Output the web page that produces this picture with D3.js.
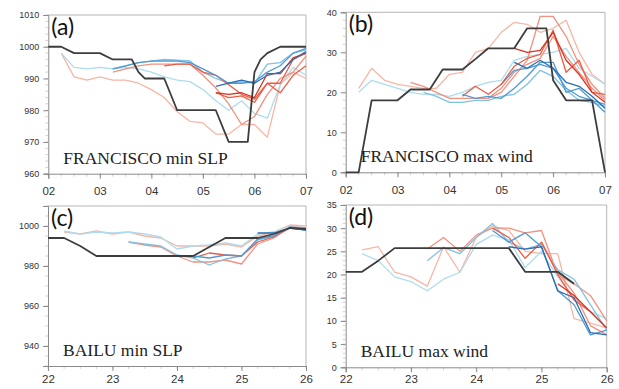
<!DOCTYPE html>
<html>
<head>
<meta charset="utf-8">
<script src="https://cdn.jsdelivr.net/npm/d3@7"></script>
<style>
  body { margin: 0; background: #fff; }
  svg { display: block; }
</style>
</head>
<body>
<svg width="619" height="389"></svg>
<script>
// colours of the ensemble members
const colours = {
  k: "#3d3d3d",
  r1: "#f7b6a6", r2: "#f29180", r3: "#ec5c45", r4: "#da3422",
  b1: "#addcec", b2: "#80c2e3", b3: "#4f9bd4", b4: "#2b6db4"
};

// ---- (a) FRANCISCO min SLP : [day, hPa]
const aObs = [[2,1000],[2.25,1000],[2.5,998],[3,998],[3.25,996],[3.62,996],[3.75,992],[3.87,990],[4.25,990],[4.5,980],[5.25,980],[5.5,970],[5.87,970],[6,992],[6.12,996],[6.25,998],[6.5,1000],[7,1000]];
const aR1 = [[2.25,998],[2.5,990.5],[2.75,989.5],[3,990.5],[3.25,989.5],[3.5,989.5],[3.75,988.5],[4,986.5],[4.25,984],[4.5,979.5],[4.75,976.5],[5,976],[5.25,972.5],[5.5,972.5],[5.75,975.5],[6,975.5],[6.25,971.5],[6.5,988],[6.75,992],[7,990]];
const aB1 = [[2.25,998],[2.5,993.5],[2.75,993],[3,993.5],[3.25,993],[3.5,993.5],[3.75,993],[4,992],[4.25,990.5],[4.5,989.5],[4.75,989],[5,986.5],[5.25,983],[5.5,980],[5.75,983],[6,979],[6.25,977.5],[6.5,988],[6.75,993.5],[7,991]];
const aB2 = [[3.25,993],[3.5,994],[3.75,995],[4,995.5],[4.25,996],[4.75,995.5],[5,992],[5.25,990],[5.5,988.5],[5.75,989],[6,988.5],[6.25,994.5],[6.5,995],[6.75,998],[7,999]];
const aB3 = [[3.25,993],[3.5,994],[3.75,995],[4,995.5],[4.5,995.5],[4.75,995],[5,993],[5.25,991],[5.5,988.5],[5.75,988.5],[6,989],[6.25,992],[6.5,994],[6.75,998],[7,999.5]];
const aB4 = [[5.25,987.5],[5.5,988.5],[5.75,989.5],[6,988.5],[6.25,991],[6.5,992],[6.75,996],[7,998.5]];
const aR2 = [[3.25,992],[3.5,993],[3.75,994],[4,994.5],[4.75,994.5],[5,991],[5.25,987],[5.5,982],[5.75,975.5],[6,978],[6.25,985],[6.5,990],[6.75,992],[7,997]];
const aR3 = [[4.25,994],[4.5,994.5],[4.75,994.5],[5,992],[5.25,991],[5.5,988],[5.75,985],[6,983.5],[6.25,988.5],[6.5,988.5],[6.75,996],[7,998]];
const aR4 = [[5.25,985.5],[5.5,985],[5.75,985.5],[6,984],[6.25,991.5],[6.5,991.5],[6.75,996.5],[7,998]];
const aR5 = [[5.25,985.5],[5.5,984],[5.75,984.5],[6,982.5],[6.25,988.5],[6.5,985.5],[6.75,991],[7,994]];

// ---- (b) FRANCISCO max wind : [day, m/s]
const bObs = [[2,0],[2.25,0],[2.5,18],[3,18],[3.25,20.7],[3.62,20.7],[3.87,25.7],[4.25,25.7],[4.5,28.3],[4.75,31],[5.25,31],[5.5,36],[5.87,36],[6,23],[6.25,18],[6.75,18],[7,0]];
const bR1 = [[2.25,21],[2.5,26],[2.75,23],[3,22],[3.25,21.5],[3.5,21],[3.75,21],[4,24.5],[4.25,25],[4.5,30],[4.75,31],[5,35],[5.25,37.5],[5.5,37],[5.75,35],[6,36],[6.25,38],[6.5,30],[6.75,24.5],[7,22]];
const bB1 = [[2.25,20],[2.5,23],[2.75,22],[3,21],[3.25,20],[3.5,19.5],[3.75,19.5],[4,19],[4.25,20],[4.5,21.5],[4.75,22.5],[5,23],[5.25,28],[5.5,29],[5.75,29.5],[6,30],[6.25,31],[6.5,26],[6.75,24],[7,22]];
const bR2 = [[3.25,22.5],[3.5,21.5],[3.75,20],[4,18.5],[4.75,18.5],[5,20],[5.25,24],[5.5,28],[5.75,39],[6,39],[6.25,34],[6.5,27],[6.75,22],[7,18.5]];
const bR3 = [[4.25,19],[4.5,21.5],[4.75,19.5],[5,22],[5.25,26.5],[5.5,28.5],[5.75,29.5],[6,35.5],[6.25,25],[6.5,28],[6.75,20],[7,19.5]];
const bR4 = [[5.25,31],[5.5,30],[5.75,30.5],[6,35],[6.25,28],[6.5,24.5],[6.75,20],[7,17.5]];
const bR5 = [[4.75,18.5],[5,21],[5.25,25],[5.5,27],[5.75,28.5],[6,34],[6.25,29],[6.5,25],[6.75,21],[7,18]];
const bB2 = [[3.5,20],[3.75,19],[4,17.5],[4.25,17.5],[4.5,18],[4.75,18],[5,19],[5.25,19.5],[5.5,22],[5.75,25.5],[6,24],[6.25,20.5],[6.5,18],[6.75,17.5],[7,16.5]];
const bB3 = [[4.25,19.5],[4.5,18.5],[4.75,19],[5,18.5],[5.25,21],[5.5,24],[5.75,27.5],[6,27.5],[6.25,20],[6.5,21],[6.75,18],[7,15]];
const bB4 = [[5.25,27.5],[5.5,26],[5.75,28],[6,26],[6.25,22.5],[6.5,21.5],[6.75,19],[7,16]];
const bB5 = [[5,22],[5.25,25.5],[5.5,26],[5.75,27],[6,26],[6.25,21],[6.5,19],[6.75,18],[7,17]];

// ---- (c) BAILU min SLP : [day, hPa]
const cObs = [[22,994],[22.25,994],[22.5,990],[22.75,985],[24.25,985],[24.5,989.5],[24.75,994],[25.25,994],[25.5,996],[25.75,999],[26,998.5]];
const cR1 = [[22.25,997],[22.5,996],[22.75,997.5],[23,996],[23.25,997],[23.5,995],[23.75,994],[24,990],[24.25,990],[24.5,990],[24.75,991],[25,989.5],[25.25,995],[25.5,997],[25.75,1000.5],[26,1000]];
const cB1 = [[22.25,997.5],[22.5,996],[22.75,997],[23,996.5],[23.25,997],[23.5,996],[23.75,994.5],[24,988.5],[24.25,990],[24.5,990.5],[24.75,991.5],[25,990],[25.25,996],[25.5,997],[25.75,1000],[26,999]];
const cR2 = [[23.25,992],[23.5,990.5],[23.75,989.5],[24,985],[24.25,982],[24.5,982],[24.75,983],[25,981],[25.25,991],[25.5,994],[25.75,999.5],[26,999]];
const cB2 = [[23.25,992],[23.5,991],[23.75,990],[24,985.5],[24.25,984],[24.5,980.5],[24.75,983.5],[25,985],[25.25,993],[25.5,995],[25.75,999],[26,998]];
const cR3 = [[24.25,984],[24.5,986.5],[24.75,985.5],[25,985],[25.25,992],[25.5,994.5],[25.75,999],[26,998.5]];
const cB3 = [[24.25,985],[24.5,984],[24.75,985.5],[25,985],[25.25,993.5],[25.5,995],[25.75,999.5],[26,998]];
const cB4 = [[25.25,996.5],[25.5,996.5],[25.75,999],[26,998]];

// ---- (d) BAILU max wind : [day, m/s]
const dObs = [[22,20.6],[22.25,20.6],[22.5,23],[22.75,25.7],[24.5,25.7],[24.75,20.6],[25.25,20.6],[25.5,18]];
const dR1 = [[22.25,25.3],[22.5,26],[22.75,20.5],[23,19.5],[23.25,17.5],[23.5,26],[23.75,20.5],[24,28],[24.25,30.5],[24.5,29.5],[24.75,25],[25,24.5],[25.25,24.5],[25.5,10.5],[25.75,9.5],[26,8.5]];
const dB1 = [[22.25,24.5],[22.5,23],[22.75,19.5],[23,18.5],[23.25,16.5],[23.5,19],[23.75,20.5],[24,26.5],[24.25,28.5],[24.5,27.5],[24.75,21.5],[25,25],[25.25,19.5],[25.5,15],[25.75,12],[26,10.5]];
const dR2 = [[23.25,25.5],[23.5,28],[23.75,25],[24,28.5],[24.25,30],[24.5,30],[24.75,29],[25,29.5],[25.25,20],[25.5,18],[25.75,15.5],[26,10]];
const dB2 = [[23.25,23],[23.5,25.8],[23.75,24.5],[24,28],[24.25,31],[24.5,27],[24.75,25.5],[25,26.5],[25.25,21],[25.5,19],[25.75,13.5],[26,8]];
const dR3 = [[24.25,30],[24.5,28],[24.75,23.5],[25,27],[25.25,20],[25.5,14.5],[25.75,12],[26,8.5]];
const dB3 = [[24.25,29.5],[24.5,27],[24.75,29],[25,26],[25.25,16.5],[25.5,13.5],[25.75,7],[26,8]];
const dB4 = [[24.5,26],[24.75,25.5],[25,26],[25.25,16.5],[25.5,15],[25.75,7.5],[26,7]];
const dR4 = [[25.25,18],[25.5,15.5],[25.75,12],[26,8.5]];
const dR5 = [[25,27],[25.25,20.5],[25.5,16],[25.75,9],[26,7]];

const panels = [
  { label: "(a)", title: "FRANCISCO min SLP", box: [48.3, 306, 15, 173.7], xPad: 8,
    xDom: [2, 7], xTicks: [2,3,4,5,6,7], yDom: [960, 1010], yTicks: [960,970,980,990,1000,1010], yMinor: 2,
    series: [[aR1,"r1"],[aB1,"b1"],[aR2,"r2"],[aB2,"b2"],[aR3,"r3"],[aB3,"b3"],[aR5,"r3"],[aR4,"r4"],[aB4,"b4"],[aObs,"k"]] },
  { label: "(b)", title: "FRANCISCO max wind", box: [345.7, 605, 12.3, 172.3], xPad: 9,
    xDom: [2, 7], xTicks: [2,3,4,5,6,7], yDom: [0, 40], yTicks: [0,10,20,30,40], yMinor: 2,
    series: [[bR1,"r1"],[bB1,"b1"],[bR2,"r2"],[bB2,"b2"],[bR5,"r2"],[bB5,"b3"],[bR3,"r3"],[bB3,"b3"],[bB4,"b4"],[bR4,"r4"],[bObs,"k"]] },
  { label: "(c)", title: "BAILU min SLP", box: [48, 306, 206, 366], xPad: 4,
    xDom: [22, 26], xTicks: [22,23,24,25,26], yDom: [930, 1010], yTicks: [940,960,980,1000], yMinor: 5,
    series: [[cR1,"r1"],[cB1,"b1"],[cR2,"r2"],[cB2,"b2"],[cR3,"r3"],[cB3,"b3"],[cB4,"b4"],[cObs,"k"]] },
  { label: "(d)", title: "BAILU max wind", box: [345.7, 606.7, 205, 367.3], xPad: 3,
    xDom: [22, 26], xTicks: [22,23,24,25,26], yDom: [0, 35], yTicks: [0,5,10,15,20,25,30,35], yMinor: 1,
    series: [[dR1,"r1"],[dB1,"b1"],[dR2,"r2"],[dB2,"b2"],[dR5,"r2"],[dR3,"r3"],[dB3,"b3"],[dB4,"b4"],[dR4,"r4"],[dObs,"k"]] }
];

const svg = d3.select("svg");

panels.forEach(p => {
  const [x0, x1, y0, y1] = p.box;
  const x = d3.scaleLinear().domain(p.xDom).range([x0, x1]);
  const y = d3.scaleLinear().domain(p.yDom).range([y1, y0]);
  const g = svg.append("g");

  // light frame on top and right
  g.append("path")
    .attr("d", `M${x0},${y0}H${x1}V${y1}`)
    .attr("fill", "none").attr("stroke", "#b5b5b5").attr("stroke-width", 1);

  // minor ticks
  const yMinor = d3.range(p.yDom[0], p.yDom[1] + 0.001, p.yMinor);
  g.selectAll(".ym").data(yMinor).join("line")
    .attr("x1", x0 - 3).attr("x2", x0)
    .attr("y1", d => y(d)).attr("y2", d => y(d))
    .attr("stroke", "#c8c8c8").attr("stroke-width", 0.8);
  const xMinor = d3.range(p.xDom[0], p.xDom[1] + 0.001, 0.25);
  g.selectAll(".xm").data(xMinor).join("line")
    .attr("x1", d => x(d)).attr("x2", d => x(d))
    .attr("y1", y1).attr("y2", y1 + 3)
    .attr("stroke", "#c8c8c8").attr("stroke-width", 0.8);

  // axes
  const yAxis = g.append("g").attr("transform", `translate(${x0},0)`)
    .call(d3.axisLeft(y).tickValues(p.yTicks).tickSize(5).tickPadding(4).tickFormat(d3.format("d")));
  const xAxis = g.append("g").attr("transform", `translate(0,${y1})`)
    .call(d3.axisBottom(x).tickValues(p.xTicks).tickSize(5).tickPadding(p.xPad)
      .tickFormat(d => String(d).padStart(2, "0")));
  [yAxis, xAxis].forEach(a => {
    a.select(".domain").attr("stroke", "#8a8a8a");
    a.selectAll(".tick line").attr("stroke", "#8a8a8a");
    a.selectAll("text").attr("fill", "#333").attr("font-family", "Liberation Sans, Arial, sans-serif");
  });
  yAxis.selectAll("text").attr("font-size", 9);
  xAxis.selectAll("text").attr("font-size", 11.5);

  // lines
  const line = d3.line().x(d => x(d[0])).y(d => y(d[1]));
  g.selectAll(".ln").data(p.series).join("path")
    .attr("d", d => line(d[0]))
    .attr("fill", "none")
    .attr("stroke", d => colours[d[1]])
    .attr("stroke-width", d => d[1] === "k" ? 1.8 : 1.3)
    .attr("stroke-linejoin", "round");

  // panel label and title
  g.append("text").attr("x", x0 + 3).attr("y", y0 + 20)
    .attr("font-family", "Lato, Open Sans, sans-serif").attr("font-size", 23)
    .attr("fill", "#111").text(p.label);
  g.append("text").attr("x", x0 + 15).attr("y", y1 - 10)
    .attr("font-family", "Liberation Serif, Times New Roman, serif").attr("font-size", 17.5)
    .attr("fill", "#222").text(p.title);
});
</script>
</body>
</html>
